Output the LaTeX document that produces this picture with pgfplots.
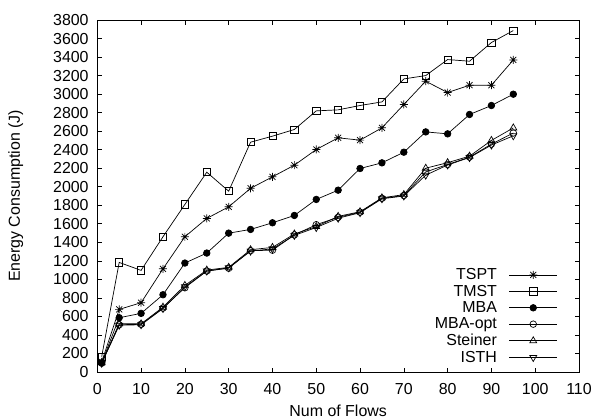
\documentclass[border=0pt]{standalone}
\usepackage{fontspec}
\setmainfont{Liberation Sans}
\usepackage{pgfplots}
\pgfplotsset{compat=1.18}
\pgfdeclareplotmark{gpstar}{%
  \pgfpathmoveto{\pgfqpoint{-\pgfplotmarksize}{0pt}}\pgfpathlineto{\pgfqpoint{\pgfplotmarksize}{0pt}}%
  \pgfpathmoveto{\pgfqpoint{0pt}{-\pgfplotmarksize}}\pgfpathlineto{\pgfqpoint{0pt}{\pgfplotmarksize}}%
  \pgfpathmoveto{\pgfqpoint{-0.75\pgfplotmarksize}{-0.75\pgfplotmarksize}}\pgfpathlineto{\pgfqpoint{0.75\pgfplotmarksize}{0.75\pgfplotmarksize}}%
  \pgfpathmoveto{\pgfqpoint{-0.75\pgfplotmarksize}{0.75\pgfplotmarksize}}\pgfpathlineto{\pgfqpoint{0.75\pgfplotmarksize}{-0.75\pgfplotmarksize}}%
  \pgfusepathqstroke}
\pgfplotstableread{
x TSPT TMST MBA MBAopt Steiner ISTH
1 110 165 100 95 100 95
5 676 1183 586 510 520 505
10 748 1097 633 515 520 510
15 1114 1460 834 690 700 685
20 1460 1809 1176 910 935 920
25 1658 2157 1284 1090 1100 1090
30 1783 1952 1499 1120 1130 1125
35 1983 2481 1539 1310 1320 1305
40 2107 2546 1611 1315 1345 1330
45 2233 2618 1690 1480 1490 1475
50 2402 2819 1863 1590 1570 1560
55 2528 2830 1963 1670 1680 1660
60 2503 2877 2197 1725 1730 1720
65 2636 2916 2258 1875 1880 1870
70 2888 3164 2373 1905 1915 1900
75 3139 3200 2592 2160 2200 2125
80 3017 3373 2571 2240 2260 2235
85 3096 3355 2780 2320 2330 2315
90 3096 3557 2877 2460 2500 2450
95 3369 3686 2999 2580 2635 2550
}\datatable
\begin{document}
\begin{tikzpicture}
\begin{axis}[
  name=ax,
  scale only axis,
  width=481.7bp, height=352bp,
  xmin=0, xmax=110, ymin=0, ymax=3800,
  xtick={0,10,...,110},
  ytick={0,200,...,3800},
  /pgf/number format/assume math mode=true,
  /pgf/number format/set thousands separator={},
  tick label style={font=\fontsize{16}{19}\selectfont, inner sep=0pt},
  yticklabel style={xshift=-8.5bp},
  xticklabel style={yshift=-10.7bp},
  major tick length=4.5bp,
  tick style={black, line width=0.6bp},
  axis line style={line width=1bp},
  xlabel={Num of Flows},
  ylabel={Energy Consumption (J)},
  label style={font=\fontsize{16}{19}\selectfont, inner sep=0pt},
  xlabel style={at={(axis description cs:0.5,0)}, anchor=north, yshift=-33bp},
  ylabel style={at={(axis description cs:0,0.5)}, anchor=south, yshift=73.8bp},
  every axis plot/.append style={black, line width=0.7bp},
  legend cell align=right,
  legend plot pos=right,
  legend style={draw=none, fill=none, font=\fontsize{16}{16.7}\selectfont,
    at={(rel axis cs:0.956,0.017)}, anchor=south east, inner sep=0pt,
    row sep=-0.1bp, column sep=10bp},
  legend image code/.code={\draw[mark repeat=2, mark phase=2, #1] plot coordinates {(0bp,0bp) (24bp,0bp) (48bp,0bp)};},
]
\addplot[mark=gpstar, mark size=4bp, mark options={solid}] table[x=x,y=TSPT]{\datatable};
\addlegendentry{TSPT}
\addplot[mark=square, mark size=3.6bp] table[x=x,y=TMST]{\datatable};
\addlegendentry{TMST}
\addplot[mark=*, mark size=3.3bp, mark options={fill=black}] table[x=x,y=MBA]{\datatable};
\addlegendentry{MBA}
\addplot[mark=o, mark size=3.3bp] table[x=x,y=MBAopt]{\datatable};
\addlegendentry{MBA-opt}
\addplot[mark=triangle, mark size=4bp] table[x=x,y=Steiner]{\datatable};
\addlegendentry{Steiner}
\addplot[mark=triangle, mark size=4bp, mark options={rotate=180}] table[x=x,y=ISTH]{\datatable};
\addlegendentry{ISTH}
\end{axis}
\pgfresetboundingbox
\path[use as bounding box] (ax.south west) ++(-97.3bp,-48bp) rectangle ++(595bp,420bp);
\end{tikzpicture}
\end{document}
